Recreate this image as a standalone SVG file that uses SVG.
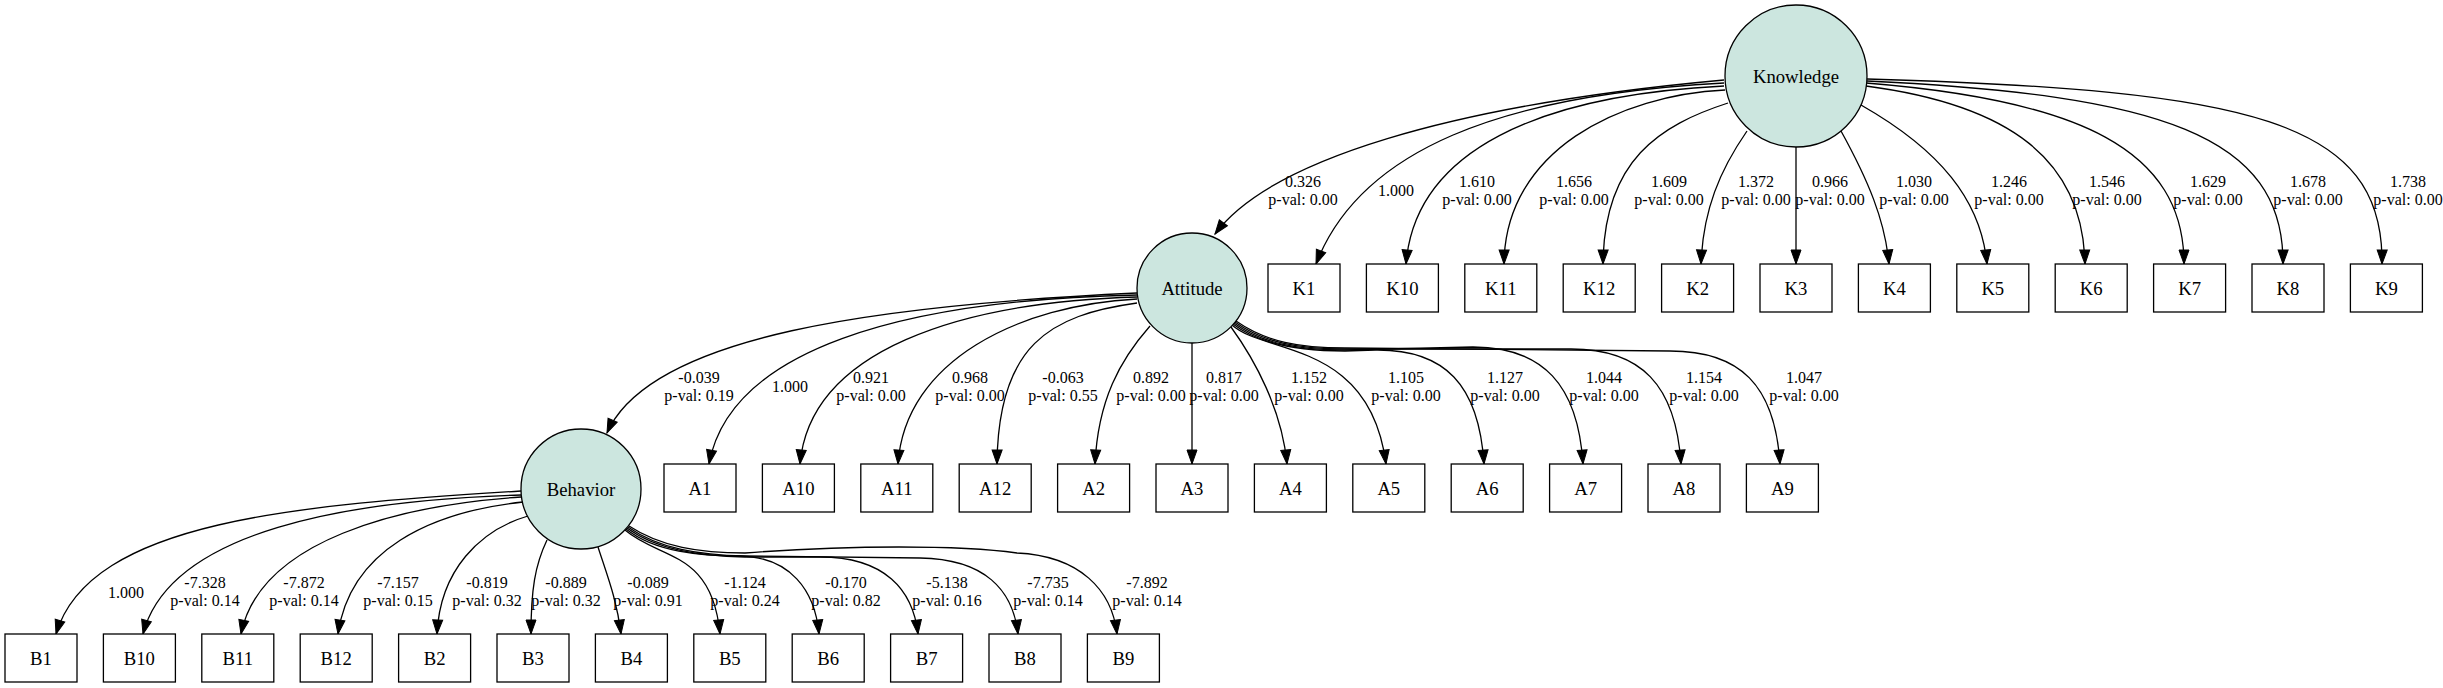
<svg xmlns="http://www.w3.org/2000/svg" width="2443" height="688" viewBox="0 0 2443 688">
<style>
.lat{fill:#cce6df;stroke:#000;stroke-width:1.3}
.obs{fill:#fff;stroke:#000;stroke-width:1.3}
.nt{font-family:"Liberation Serif","Times New Roman",serif;font-size:18.7px;text-anchor:middle;fill:#000}
.el{font-family:"Liberation Serif","Times New Roman",serif;font-size:16px;text-anchor:middle;fill:#000}
.e{fill:none;stroke:#000;stroke-width:1.3;marker-end:url(#ah)}
</style>
<defs>
<marker id="ah" markerWidth="14" markerHeight="10" refX="14" refY="5" orient="auto" markerUnits="userSpaceOnUse" overflow="visible"><path d="M0,0 L14,5 L0,10 z" fill="#000" stroke="#000" stroke-width="1"/></marker>
</defs>
<rect width="2443" height="688" fill="#fff"/>
<g id="connectors">
<path class="e" d="M1724,80 C1450,105 1270,160 1215,234"/>
<path class="e" d="M1724,83 C1500,95 1360,150 1316,264"/>
<path class="e" d="M1724,86 C1540,95 1415,150 1406,264"/>
<path class="e" d="M1725,90 C1620,95 1505,150 1504,264"/>
<path class="e" d="M1728,103 C1660,125 1604,160 1603,264"/>
<path class="e" d="M1747,131 C1720,170 1703,210 1701,264"/>
<path class="e" d="M1796,147 L1796,264"/>
<path class="e" d="M1841,131 C1868,180 1885,220 1889,264"/>
<path class="e" d="M1861,105 C1940,150 1981,200 1987,264"/>
<path class="e" d="M1866,86 C2010,105 2083,160 2085,264"/>
<path class="e" d="M1866,83 C2080,100 2184,150 2184,264"/>
<path class="e" d="M1867,81 C2160,95 2284,135 2283,264"/>
<path class="e" d="M1867,79 C2250,90 2384,120 2382,264"/>
<path class="e" d="M1137,293 C880,305 650,335 607,433"/>
<path class="e" d="M1137,295 C900,300 730,350 709,464"/>
<path class="e" d="M1137,297 C960,302 810,350 800,464"/>
<path class="e" d="M1137,299 C1020,305 905,360 898,464"/>
<path class="e" d="M1137,303 C1050,315 998,345 997,464"/>
<path class="e" d="M1150,326 C1120,360 1098,400 1095,464"/>
<path class="e" d="M1192,343 L1192,464"/>
<path class="e" d="M1231,327 C1255,360 1282,410 1287,464"/>
<path class="e" d="M1232,325 C1265,355 1370,340 1386,464"/>
<path class="e" d="M1233,324 C1260,345 1300,351 1345,351 L1375,350 C1445,349 1479,385 1484,464"/>
<path class="e" d="M1234,323 C1262,344 1300,350 1345,350 L1473,347 C1543,347 1578,385 1583,464"/>
<path class="e" d="M1235,322 C1264,343 1300,349 1345,349 L1571,349 C1641,349 1676,385 1681,464"/>
<path class="e" d="M1236,321 C1266,342 1300,348 1345,348 L1670,351 C1740,351 1775,385 1780,464"/>
<path class="e" d="M521,491 C300,505 90,520 56,634"/>
<path class="e" d="M521,495 C350,500 170,530 143,634"/>
<path class="e" d="M521,497 C400,505 260,540 241,634"/>
<path class="e" d="M523,502 C430,512 350,550 338,634"/>
<path class="e" d="M528,516 C480,530 440,570 437,634"/>
<path class="e" d="M547,540 C535,565 531,590 531,634"/>
<path class="e" d="M598,547 C607,575 617,600 621,634"/>
<path class="e" d="M625,530 C660,560 712,550 720,634"/>
<path class="e" d="M626,529 C655,552 700,556 740,556 C790,557 815,590 819,634"/>
<path class="e" d="M627,528 C657,550 700,556 745,557 L820,557 C885,557 913,590 918,634"/>
<path class="e" d="M628,527 C659,549 700,555 745,556 L920,558 C985,559 1013,590 1018,634"/>
<path class="e" d="M629,526 C661,547 700,553 745,553 C850,545 960,545 1017,553 C1080,556 1112,590 1117,634"/>
</g>
<g id="edge-labels">
<text class="el" x="1303" y="187">0.326</text><text class="el" x="1303" y="205">p-val: 0.00</text>
<text class="el" x="1396" y="196">1.000</text>
<text class="el" x="1477" y="187">1.610</text><text class="el" x="1477" y="205">p-val: 0.00</text>
<text class="el" x="1574" y="187">1.656</text><text class="el" x="1574" y="205">p-val: 0.00</text>
<text class="el" x="1669" y="187">1.609</text><text class="el" x="1669" y="205">p-val: 0.00</text>
<text class="el" x="1756" y="187">1.372</text><text class="el" x="1756" y="205">p-val: 0.00</text>
<text class="el" x="1830" y="187">0.966</text><text class="el" x="1830" y="205">p-val: 0.00</text>
<text class="el" x="1914" y="187">1.030</text><text class="el" x="1914" y="205">p-val: 0.00</text>
<text class="el" x="2009" y="187">1.246</text><text class="el" x="2009" y="205">p-val: 0.00</text>
<text class="el" x="2107" y="187">1.546</text><text class="el" x="2107" y="205">p-val: 0.00</text>
<text class="el" x="2208" y="187">1.629</text><text class="el" x="2208" y="205">p-val: 0.00</text>
<text class="el" x="2308" y="187">1.678</text><text class="el" x="2308" y="205">p-val: 0.00</text>
<text class="el" x="2408" y="187">1.738</text><text class="el" x="2408" y="205">p-val: 0.00</text>
<text class="el" x="699" y="383">-0.039</text><text class="el" x="699" y="401">p-val: 0.19</text>
<text class="el" x="790" y="392">1.000</text>
<text class="el" x="871" y="383">0.921</text><text class="el" x="871" y="401">p-val: 0.00</text>
<text class="el" x="970" y="383">0.968</text><text class="el" x="970" y="401">p-val: 0.00</text>
<text class="el" x="1063" y="383">-0.063</text><text class="el" x="1063" y="401">p-val: 0.55</text>
<text class="el" x="1151" y="383">0.892</text><text class="el" x="1151" y="401">p-val: 0.00</text>
<text class="el" x="1224" y="383">0.817</text><text class="el" x="1224" y="401">p-val: 0.00</text>
<text class="el" x="1309" y="383">1.152</text><text class="el" x="1309" y="401">p-val: 0.00</text>
<text class="el" x="1406" y="383">1.105</text><text class="el" x="1406" y="401">p-val: 0.00</text>
<text class="el" x="1505" y="383">1.127</text><text class="el" x="1505" y="401">p-val: 0.00</text>
<text class="el" x="1604" y="383">1.044</text><text class="el" x="1604" y="401">p-val: 0.00</text>
<text class="el" x="1704" y="383">1.154</text><text class="el" x="1704" y="401">p-val: 0.00</text>
<text class="el" x="1804" y="383">1.047</text><text class="el" x="1804" y="401">p-val: 0.00</text>
<text class="el" x="126" y="598">1.000</text>
<text class="el" x="205" y="588">-7.328</text><text class="el" x="205" y="606">p-val: 0.14</text>
<text class="el" x="304" y="588">-7.872</text><text class="el" x="304" y="606">p-val: 0.14</text>
<text class="el" x="398" y="588">-7.157</text><text class="el" x="398" y="606">p-val: 0.15</text>
<text class="el" x="487" y="588">-0.819</text><text class="el" x="487" y="606">p-val: 0.32</text>
<text class="el" x="566" y="588">-0.889</text><text class="el" x="566" y="606">p-val: 0.32</text>
<text class="el" x="648" y="588">-0.089</text><text class="el" x="648" y="606">p-val: 0.91</text>
<text class="el" x="745" y="588">-1.124</text><text class="el" x="745" y="606">p-val: 0.24</text>
<text class="el" x="846" y="588">-0.170</text><text class="el" x="846" y="606">p-val: 0.82</text>
<text class="el" x="947" y="588">-5.138</text><text class="el" x="947" y="606">p-val: 0.16</text>
<text class="el" x="1048" y="588">-7.735</text><text class="el" x="1048" y="606">p-val: 0.14</text>
<text class="el" x="1147" y="588">-7.892</text><text class="el" x="1147" y="606">p-val: 0.14</text>
</g>
<g id="Knowledge"><ellipse class="lat" cx="1796" cy="76" rx="71" ry="71"/><text class="nt" x="1796" y="82.5">Knowledge</text></g>
<g id="Attitude"><ellipse class="lat" cx="1192" cy="288" rx="55" ry="55"/><text class="nt" x="1192" y="294.5">Attitude</text></g>
<g id="Behavior"><ellipse class="lat" cx="581" cy="489" rx="60" ry="60"/><text class="nt" x="581" y="495.5">Behavior</text></g>
<g id="K1"><rect class="obs" x="1268" y="264" width="72" height="48"/><text class="nt" x="1304" y="294.5">K1</text></g>
<g id="K10"><rect class="obs" x="1366.4" y="264" width="72" height="48"/><text class="nt" x="1402.4" y="294.5">K10</text></g>
<g id="K11"><rect class="obs" x="1464.8" y="264" width="72" height="48"/><text class="nt" x="1500.8" y="294.5">K11</text></g>
<g id="K12"><rect class="obs" x="1563.2" y="264" width="72" height="48"/><text class="nt" x="1599.2" y="294.5">K12</text></g>
<g id="K2"><rect class="obs" x="1661.6" y="264" width="72" height="48"/><text class="nt" x="1697.6" y="294.5">K2</text></g>
<g id="K3"><rect class="obs" x="1760" y="264" width="72" height="48"/><text class="nt" x="1796" y="294.5">K3</text></g>
<g id="K4"><rect class="obs" x="1858.4" y="264" width="72" height="48"/><text class="nt" x="1894.4" y="294.5">K4</text></g>
<g id="K5"><rect class="obs" x="1956.8" y="264" width="72" height="48"/><text class="nt" x="1992.8" y="294.5">K5</text></g>
<g id="K6"><rect class="obs" x="2055.2" y="264" width="72" height="48"/><text class="nt" x="2091.2" y="294.5">K6</text></g>
<g id="K7"><rect class="obs" x="2153.6" y="264" width="72" height="48"/><text class="nt" x="2189.6" y="294.5">K7</text></g>
<g id="K8"><rect class="obs" x="2252" y="264" width="72" height="48"/><text class="nt" x="2288" y="294.5">K8</text></g>
<g id="K9"><rect class="obs" x="2350.4" y="264" width="72" height="48"/><text class="nt" x="2386.4" y="294.5">K9</text></g>
<g id="A1"><rect class="obs" x="664" y="464" width="72" height="48"/><text class="nt" x="700" y="494.5">A1</text></g>
<g id="A10"><rect class="obs" x="762.4" y="464" width="72" height="48"/><text class="nt" x="798.4" y="494.5">A10</text></g>
<g id="A11"><rect class="obs" x="860.8" y="464" width="72" height="48"/><text class="nt" x="896.8" y="494.5">A11</text></g>
<g id="A12"><rect class="obs" x="959.2" y="464" width="72" height="48"/><text class="nt" x="995.2" y="494.5">A12</text></g>
<g id="A2"><rect class="obs" x="1057.6" y="464" width="72" height="48"/><text class="nt" x="1093.6" y="494.5">A2</text></g>
<g id="A3"><rect class="obs" x="1156" y="464" width="72" height="48"/><text class="nt" x="1192" y="494.5">A3</text></g>
<g id="A4"><rect class="obs" x="1254.4" y="464" width="72" height="48"/><text class="nt" x="1290.4" y="494.5">A4</text></g>
<g id="A5"><rect class="obs" x="1352.8" y="464" width="72" height="48"/><text class="nt" x="1388.8" y="494.5">A5</text></g>
<g id="A6"><rect class="obs" x="1451.2" y="464" width="72" height="48"/><text class="nt" x="1487.2" y="494.5">A6</text></g>
<g id="A7"><rect class="obs" x="1549.6" y="464" width="72" height="48"/><text class="nt" x="1585.6" y="494.5">A7</text></g>
<g id="A8"><rect class="obs" x="1648" y="464" width="72" height="48"/><text class="nt" x="1684" y="494.5">A8</text></g>
<g id="A9"><rect class="obs" x="1746.4" y="464" width="72" height="48"/><text class="nt" x="1782.4" y="494.5">A9</text></g>
<g id="B1"><rect class="obs" x="5" y="634" width="72" height="48"/><text class="nt" x="41" y="664.5">B1</text></g>
<g id="B10"><rect class="obs" x="103.4" y="634" width="72" height="48"/><text class="nt" x="139.4" y="664.5">B10</text></g>
<g id="B11"><rect class="obs" x="201.8" y="634" width="72" height="48"/><text class="nt" x="237.8" y="664.5">B11</text></g>
<g id="B12"><rect class="obs" x="300.2" y="634" width="72" height="48"/><text class="nt" x="336.2" y="664.5">B12</text></g>
<g id="B2"><rect class="obs" x="398.6" y="634" width="72" height="48"/><text class="nt" x="434.6" y="664.5">B2</text></g>
<g id="B3"><rect class="obs" x="497" y="634" width="72" height="48"/><text class="nt" x="533" y="664.5">B3</text></g>
<g id="B4"><rect class="obs" x="595.4" y="634" width="72" height="48"/><text class="nt" x="631.4" y="664.5">B4</text></g>
<g id="B5"><rect class="obs" x="693.8" y="634" width="72" height="48"/><text class="nt" x="729.8" y="664.5">B5</text></g>
<g id="B6"><rect class="obs" x="792.2" y="634" width="72" height="48"/><text class="nt" x="828.2" y="664.5">B6</text></g>
<g id="B7"><rect class="obs" x="890.6" y="634" width="72" height="48"/><text class="nt" x="926.6" y="664.5">B7</text></g>
<g id="B8"><rect class="obs" x="989" y="634" width="72" height="48"/><text class="nt" x="1025" y="664.5">B8</text></g>
<g id="B9"><rect class="obs" x="1087.4" y="634" width="72" height="48"/><text class="nt" x="1123.4" y="664.5">B9</text></g>
</svg>
